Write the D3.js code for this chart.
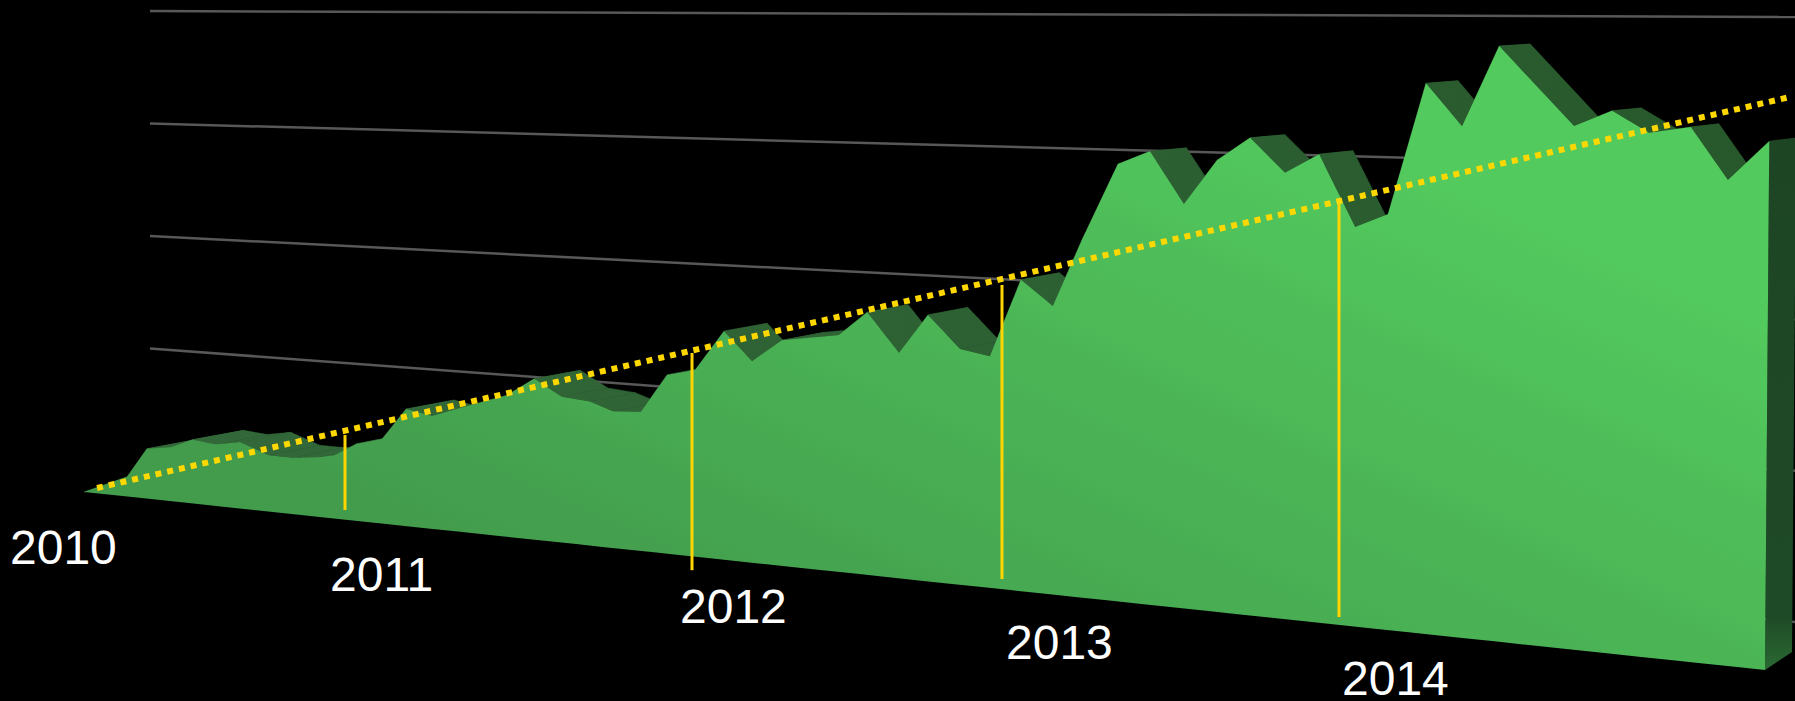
<!DOCTYPE HTML>
<html>

<head>
    <meta content="text/html;charset=utf-8" http-equiv="Content-Type">
    <title>Area 2010-2014</title>
    <script src="https://d3js.org/d3.v7.min.js"></script>
    <style>
        html, body {
            margin: 0;
            background: #000;
            overflow: hidden;
        }

        text {
            font-family: "Liberation Sans", Arial, sans-serif;
        }
    </style>
</head>

<body>
    <div id="chart"></div>
</body>
<script>
    const width = 1795, height = 701;

    // values are on a 0-100 scale
    const dates = [2010.00, 2010.165, 2010.241, 2010.333, 2010.414, 2010.506, 2010.598, 2010.709, 2010.801, 2010.908, 2010.962,
        2011.032, 2011.107, 2011.176, 2011.251, 2011.329, 2011.467, 2011.545, 2011.625, 2011.706, 2011.772, 2011.853, 2011.928,
        2012.010, 2012.103, 2012.194, 2012.290, 2012.474, 2012.565, 2012.668, 2012.761, 2012.865, 2012.961,
        2013.056, 2013.151, 2013.237, 2013.344, 2013.439, 2013.540, 2013.638, 2013.736, 2013.840, 2013.941,
        2014.038, 2014.115, 2014.204, 2014.289, 2014.376, 2014.552, 2014.641, 2014.728, 2014.826, 2014.913, 2015.01];
    const values = [0, 3.3, 8.3, 9.0, 10.6, 10.3, 11.1, 9.4, 9.4, 10.0, 10.6,
        12.8, 14.1, 19.5, 18.8, 20.6, 23.6, 26.8, 24.3, 24.0, 22.8, 23.2, 29.8,
        31.1, 38.1, 33.6, 37.6, 39.5, 43.8, 37.6, 44.4, 39.3, 38.6,
        51.9, 48.1, 59.6, 72.9, 75.6, 67.4, 75.3, 79.6, 74.4, 78.1,
        66.6, 69.3, 91.8, 85.3, 99.3, 87.3, 90.5, 87.5, 89.2, 81.0, 88.2];

    const years = [2010, 2011, 2012, 2013, 2014];
    const markerYears = [2011, 2012, 2013, 2014];
    const markerTops = [14.1, 33.9, 50.7, 70.3];
    const markerBottoms = [1.6, -2.3, 1.7, 1.3];
    const trendYears = [2010.05, 2015.061];
    const trendValues = [0.9, 96.0];
    const gridValues = [0, 25, 50, 75, 100];

    // fake perspective: the year spacing is uneven on screen
    const x = d3.scaleLinear()
        .domain([2010, 2011, 2012, 2013, 2014, 2015])
        .range([84, 345, 692, 1002, 1339, 1765]);
    const xBottom = d3.scaleLinear().domain([2010, 2015.01]).range([84, 1765]);
    const ground = d3.scaleLinear().domain([84, 1765]).range([492, 670]);
    const h = d3.scaleLinear().domain([0, 100]).range([0, 600]);

    const wallLeft = d3.scaleLinear().domain([0, 100]).range([461, 11]);
    const wallRight = d3.scaleLinear().domain([0, 100]).range([622, 17]);

    const depthX = d3.scaleLinear().domain([100, 1765]).range([53, 27]);
    const depthY = d3.scaleLinear().domain([46, 160, 280, 440, 670]).range([-2, -3.5, -7, -9.5, -18]);

    const topY = (d, v) => ground(x(d)) - h(v);
    const back = (px, py) => [px + depthX(px), py + depthY(py)];

    const series = dates.map((d, i) => ({ date: d, value: values[i] }));

    const svg = d3.select("#chart")
        .append("svg")
        .attr("width", width)
        .attr("height", height)
        .style("display", "block");

    const defs = svg.append("defs");

    // the front face has faint bands running across it
    const bands = 12;
    const bandColor = d3.interpolateRgb("#429c4c", "#53ca5e");
    const frontGrad = defs.append("linearGradient")
        .attr("id", "frontGrad")
        .attr("gradientUnits", "userSpaceOnUse")
        .attr("x1", 300).attr("y1", 500)
        .attr("x2", 640).attr("y2", -257);
    d3.range(bands).forEach(i => {
        frontGrad.append("stop").attr("offset", i / bands).attr("stop-color", bandColor(i / (bands - 1)));
        frontGrad.append("stop").attr("offset", (i + 0.5) / bands).attr("stop-color", bandColor(i / (bands - 1)));
    });

    const sideGrad = defs.append("linearGradient")
        .attr("id", "sideGrad")
        .attr("gradientUnits", "userSpaceOnUse")
        .attr("x1", 150).attr("x2", 1795).attr("y1", 0).attr("y2", 0);
    sideGrad.append("stop").attr("offset", 0).attr("stop-color", "#33693a");
    sideGrad.append("stop").attr("offset", 1).attr("stop-color", "#27582b");

    const endGrad = defs.append("linearGradient")
        .attr("id", "endGrad")
        .attr("x1", 0).attr("x2", 0).attr("y1", 0).attr("y2", 1);
    endGrad.append("stop").attr("offset", 0).attr("stop-color", "#1d4524");
    endGrad.append("stop").attr("offset", 0.9).attr("stop-color", "#1f4a27");
    endGrad.append("stop").attr("offset", 1).attr("stop-color", "#2a6a33");

    // back wall lines
    svg.append("g")
        .selectAll("line")
        .data(gridValues)
        .join("line")
        .attr("x1", 150)
        .attr("x2", width)
        .attr("y1", d => wallLeft(d))
        .attr("y2", d => wallRight(d))
        .attr("stroke", "#585858")
        .attr("stroke-width", 2.5);

    // top faces going back from the front edge
    const segments = d3.pairs(series);
    svg.append("g")
        .selectAll("path")
        .data(segments)
        .join("path")
        .attr("d", ([a, b]) => {
            const ax = x(a.date), ay = topY(a.date, a.value);
            const bx = x(b.date), by = topY(b.date, b.value);
            return d3.line()([[ax, ay], [bx, by], back(bx, by), back(ax, ay)]) + "Z";
        })
        .attr("fill", "url(#sideGrad)")
        .attr("stroke", "url(#sideGrad)")
        .attr("stroke-width", 0.5);

    // right end of the block
    const last = series[series.length - 1];
    const endX = x(last.date), endY = topY(last.date, last.value);
    const cornerX = xBottom(last.date), cornerY = ground(cornerX);
    svg.append("path")
        .attr("d", d3.line()([[endX, endY], back(endX, endY), back(cornerX, cornerY), [cornerX, cornerY]]) + "Z")
        .attr("fill", "url(#endGrad)");

    // front face
    const area = d3.area()
        .x0(d => xBottom(d.date))
        .y0(d => ground(xBottom(d.date)))
        .x1(d => x(d.date))
        .y1(d => topY(d.date, d.value));

    svg.append("path")
        .datum(series)
        .attr("d", area)
        .attr("fill", "url(#frontGrad)");

    // yellow year markers
    svg.append("g")
        .selectAll("line")
        .data(markerYears)
        .join("line")
        .attr("x1", d => x(d))
        .attr("x2", d => x(d))
        .attr("y1", (d, i) => topY(d, markerTops[i]))
        .attr("y2", (d, i) => topY(d, markerBottoms[i]))
        .attr("stroke", "#ffd400")
        .attr("stroke-width", 3);

    // dotted trend line
    svg.append("line")
        .attr("x1", x(trendYears[0]))
        .attr("y1", topY(trendYears[0], trendValues[0]))
        .attr("x2", x(trendYears[1]))
        .attr("y2", topY(trendYears[1], trendValues[1]))
        .attr("stroke", "#ffd800")
        .attr("stroke-width", 6)
        .attr("stroke-dasharray", "6 6");

    // year labels sit by hand around the block, as in the original
    const labelDx = [-74, -15, -12, 4, 3];
    const labelDy = [72, 71, 67, 70, 70];

    svg.append("g")
        .selectAll("text")
        .data(years)
        .join("text")
        .attr("x", (d, i) => x(d) + labelDx[i])
        .attr("y", (d, i) => ground(x(d)) + labelDy[i])
        .attr("fill", "#fff")
        .attr("font-size", 48)
        .text(d => d);
</script>

</html>
